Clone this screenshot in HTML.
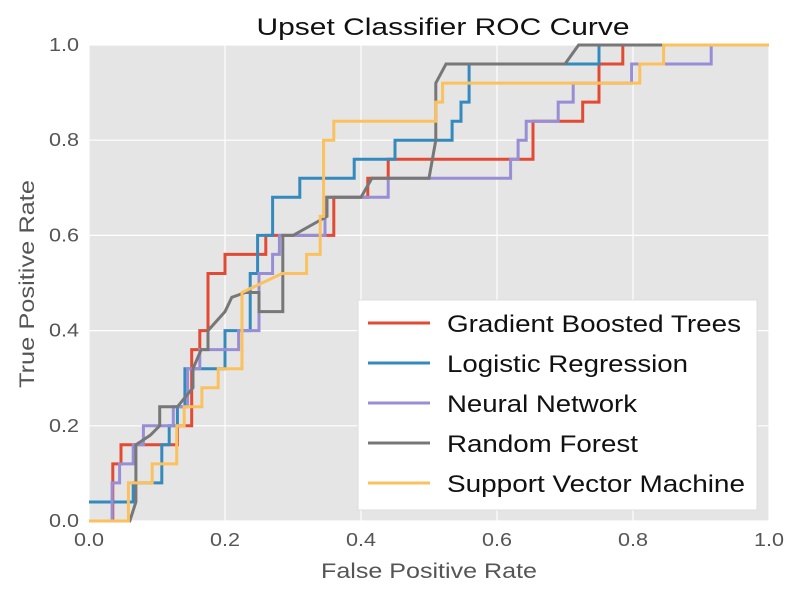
<!DOCTYPE html>
<html><head><meta charset="utf-8"><style>body{margin:0;background:#fff}svg{display:block;font-family:"Liberation Sans",sans-serif}</style></head>
<body>
<svg id="c" width="800" height="600"></svg>
<script>
const ticks=[0,0.2,0.4,0.6,0.8,1.0];
const tickLabels=["0.0","0.2","0.4","0.6","0.8","1.0"];
const seriesNames=["Gradient Boosted Trees","Logistic Regression","Neural Network","Random Forest","Support Vector Machine"];
const legendWidths=[294,241,190,191,298];
const gbtX=[0,0.035,0.035,0.047,0.047,0.13,0.13,0.151,0.151,0.163,0.163,0.175,0.175,0.2,0.2,0.26,0.26,0.36,0.36,0.41,0.41,0.44,0.44,0.653,0.653,0.726,0.726,0.75,0.75,0.785,0.785,1];
const gbtY=[0,0,0.12,0.12,0.16,0.16,0.2,0.2,0.36,0.36,0.4,0.4,0.52,0.52,0.56,0.56,0.6,0.6,0.68,0.68,0.72,0.72,0.76,0.76,0.84,0.84,0.88,0.88,0.96,0.96,1,1];
const lrX=[0,0.065,0.065,0.107,0.107,0.118,0.118,0.13,0.13,0.141,0.141,0.2,0.2,0.237,0.237,0.248,0.248,0.27,0.27,0.31,0.31,0.39,0.39,0.45,0.45,0.534,0.534,0.547,0.547,0.559,0.559,0.75,0.75,1];
const lrY=[0.04,0.04,0.08,0.08,0.16,0.16,0.2,0.2,0.24,0.24,0.32,0.32,0.4,0.4,0.52,0.52,0.6,0.6,0.68,0.68,0.72,0.72,0.76,0.76,0.8,0.8,0.84,0.84,0.88,0.88,0.96,0.96,1,1];
const nnX=[0,0.034,0.034,0.045,0.045,0.065,0.065,0.08,0.08,0.124,0.124,0.145,0.145,0.163,0.163,0.22,0.22,0.25,0.25,0.27,0.27,0.28,0.28,0.347,0.347,0.44,0.44,0.62,0.62,0.631,0.631,0.643,0.643,0.69,0.69,0.712,0.712,0.798,0.798,0.915,0.915,1];
const nnY=[0,0,0.08,0.08,0.12,0.12,0.16,0.16,0.2,0.2,0.24,0.24,0.32,0.32,0.36,0.36,0.4,0.4,0.52,0.52,0.56,0.56,0.6,0.6,0.68,0.68,0.72,0.72,0.76,0.76,0.8,0.8,0.84,0.84,0.88,0.88,0.92,0.92,0.96,0.96,1,1];
const rfX=[0,0.06,0.069,0.069,0.09,0.104,0.104,0.13,0.153,0.153,0.165,0.175,0.175,0.2,0.21,0.23,0.25,0.25,0.285,0.285,0.3,0.35,0.35,0.4,0.416,0.5,0.51,0.51,0.525,0.666,0.666,0.7,0.72,1];
const rfY=[0,0,0.04,0.16,0.18,0.2,0.24,0.24,0.28,0.32,0.36,0.36,0.4,0.44,0.47,0.48,0.48,0.44,0.44,0.6,0.6,0.64,0.68,0.68,0.72,0.72,0.8,0.92,0.96,0.96,0.96,0.96,1,1];
const svmX=[0,0.058,0.058,0.093,0.093,0.129,0.129,0.14,0.14,0.166,0.166,0.19,0.19,0.225,0.225,0.284,0.32,0.32,0.34,0.34,0.345,0.345,0.36,0.36,0.51,0.51,0.52,0.52,0.81,0.81,0.845,0.845,1];
const svmY=[0,0,0.08,0.08,0.12,0.12,0.2,0.2,0.24,0.24,0.28,0.28,0.32,0.32,0.48,0.52,0.52,0.56,0.56,0.64,0.64,0.8,0.8,0.84,0.84,0.88,0.88,0.92,0.92,0.96,0.96,1,1];
const colors=["#E24A33","#348ABD","#988ED5","#777777","#FBC15E"];
const allX=[gbtX,lrX,nnX,rfX,svmX], allY=[gbtY,lrY,nnY,rfY,svmY];
const L=89,R=769,T=45,B=521;
const sx=v=>L+v*(R-L), sy=v=>B-v*(B-T);
const NS="http://www.w3.org/2000/svg", svg=document.getElementById('c');
function mk(t,a,p){const e=document.createElementNS(NS,t);for(const k in a)e.setAttribute(k,a[k]);(p||svg).appendChild(e);return e;}
let e=mk('rect',{x:L,y:T,width:R-L,height:B-T,fill:'#E5E5E5'});


ticks.forEach((t,i)=>{
 let g=mk('line',{x1:sx(t),x2:sx(t),y1:T,y2:B,stroke:'#fff','stroke-width':1.2});
 
 
 let h=mk('line',{x1:L,x2:R,y1:sy(t),y2:sy(t),stroke:'#fff','stroke-width':1.2});
 
 
 let a=mk('text',{x:sx(t),y:B+25,'text-anchor':'middle','font-size':18,fill:'#555',textLength:30,lengthAdjust:'spacingAndGlyphs'});a.textContent=tickLabels[i];
 
 
 let b=mk('text',{x:L-10,y:sy(t)+6,'text-anchor':'end','font-size':18,fill:'#555',textLength:30,lengthAdjust:'spacingAndGlyphs'});b.textContent=tickLabels[i];
 
 
});
allX.forEach((xs,s)=>{
 const pts=xs.map((x,i)=>sx(x).toFixed(1)+','+sy(allY[s][i]).toFixed(1)).join(' ');
 let p=mk('polyline',{points:pts,fill:'none',stroke:colors[s],'stroke-width':3,'stroke-linejoin':'miter'});
 
 
});
let t=mk('text',{x:443,y:35,'text-anchor':'middle','font-size':24,fill:'#111',textLength:373,lengthAdjust:'spacingAndGlyphs'});t.textContent='Upset Classifier ROC Curve';


let xl=mk('text',{x:429,y:578,'text-anchor':'middle','font-size':21,fill:'#555',textLength:216,lengthAdjust:'spacingAndGlyphs'});xl.textContent='False Positive Rate';


let yl=mk('text',{x:0,y:0,'text-anchor':'middle','font-size':21,fill:'#555',textLength:208,lengthAdjust:'spacingAndGlyphs',transform:'translate(34,284) rotate(-90)'});yl.textContent='True Positive Rate';


let lg=mk('g',{});


let lb=mk('rect',{x:358,y:300,width:399,height:210,fill:'#fff',stroke:'#ddd'},lg);


seriesNames.forEach((n,i)=>{
 const y=323+i*40;
 let ln=mk('line',{x1:368,x2:430,y1:y,y2:y,stroke:colors[i],'stroke-width':3},lg);
 
 
 let tx=mk('text',{x:447,y:y+9,'font-size':24,fill:'#111',textLength:legendWidths[i],lengthAdjust:'spacingAndGlyphs'},lg);tx.textContent=n;
 
 
});
</script>
</body></html>
